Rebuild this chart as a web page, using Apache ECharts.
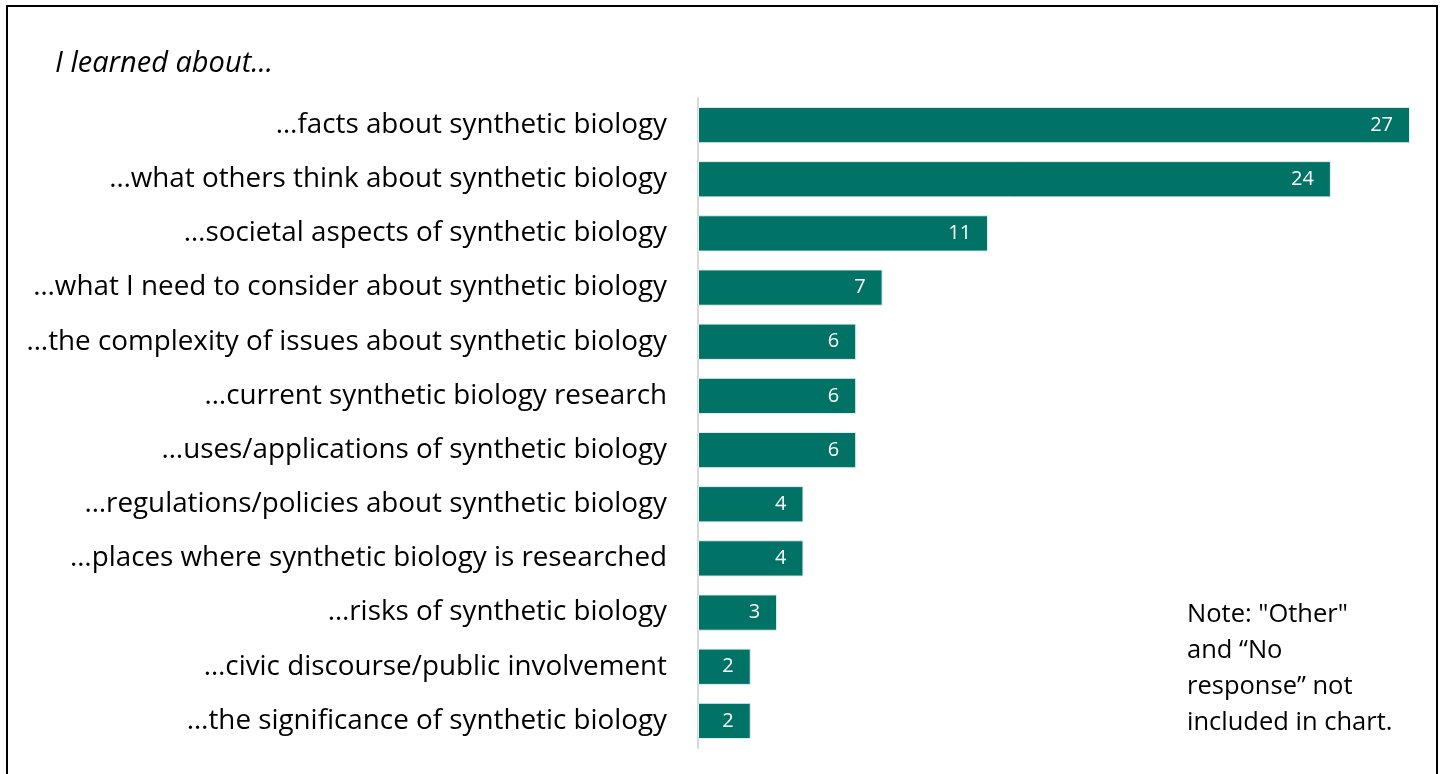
<!DOCTYPE html>
<html>
<head>
<meta charset="utf-8">
<script src="https://cdn.jsdelivr.net/npm/echarts@6/dist/echarts.min.js"></script>
<style>
  html, body { margin: 0; padding: 0; background: #fff; }
  #chart { width: 1443px; height: 774px; }
</style>
</head>
<body>
<div id="chart"></div>
<script>
// Topics, top to bottom
const categories = [
  '…facts about synthetic biology',
  '…what others think about synthetic biology',
  '…societal aspects of synthetic biology',
  '…what I need to consider about synthetic biology',
  '…the complexity of issues about synthetic biology',
  '…current synthetic biology research',
  '…uses/applications of synthetic biology',
  '…regulations/policies about synthetic biology',
  '…places where synthetic biology is researched',
  '…risks of synthetic biology',
  '…civic discourse/public involvement',
  '…the significance of synthetic biology'
];
// Number of responses per topic
const counts = [27, 24, 11, 7, 6, 6, 6, 4, 4, 3, 2, 2];

const titleText = 'I learned about...';
const noteLines = ['Note: "Other"', 'and \u201cNo', 'response\u201d not', 'included in chart.'];

const FONT = '"Open Sans", "DejaVu Sans", sans-serif';

const chart = echarts.init(document.getElementById('chart'), null, { renderer: 'canvas' });

chart.setOption({
  animation: false,
  backgroundColor: '#ffffff',
  grid: { left: 698, right: 33, top: 98, bottom: 26, containLabel: false },
  xAxis: {
    type: 'value',
    min: 0,
    max: 27,
    show: false
  },
  yAxis: {
    type: 'category',
    inverse: true,
    data: categories,
    axisLine: { show: true, lineStyle: { color: '#d9d9d9', width: 2 } },
    axisTick: { show: false },
    axisLabel: {
      margin: 31,
      color: '#000',
      fontSize: 27.8,
      fontFamily: FONT
    }
  },
  series: [{
    type: 'bar',
    data: counts,
    barCategoryGap: '33%',
    itemStyle: { color: '#007366', borderColor: '#e6f0ee', borderWidth: 1 },
    label: {
      show: true,
      position: 'insideRight',
      distance: 17,
      color: '#ffffff',
      fontSize: 20,
      fontFamily: FONT
    }
  }],
  graphic: [
    {
      type: 'rect',
      shape: { x: 7, y: 6, width: 1430, height: 780 },
      style: { fill: 'none', stroke: '#000', lineWidth: 2 },
      silent: true
    },
    {
      type: 'text',
      left: 55,
      top: 49,
      style: {
        text: titleText,
        fill: '#000',
        font: 'italic 29px ' + FONT
      }
    },
    {
      type: 'text',
      left: 1187,
      top: 597,
      style: {
        text: noteLines.join('\n'),
        fill: '#000',
        font: '25.5px ' + FONT,
        lineHeight: 36
      }
    }
  ]
});
</script>
</body>
</html>
